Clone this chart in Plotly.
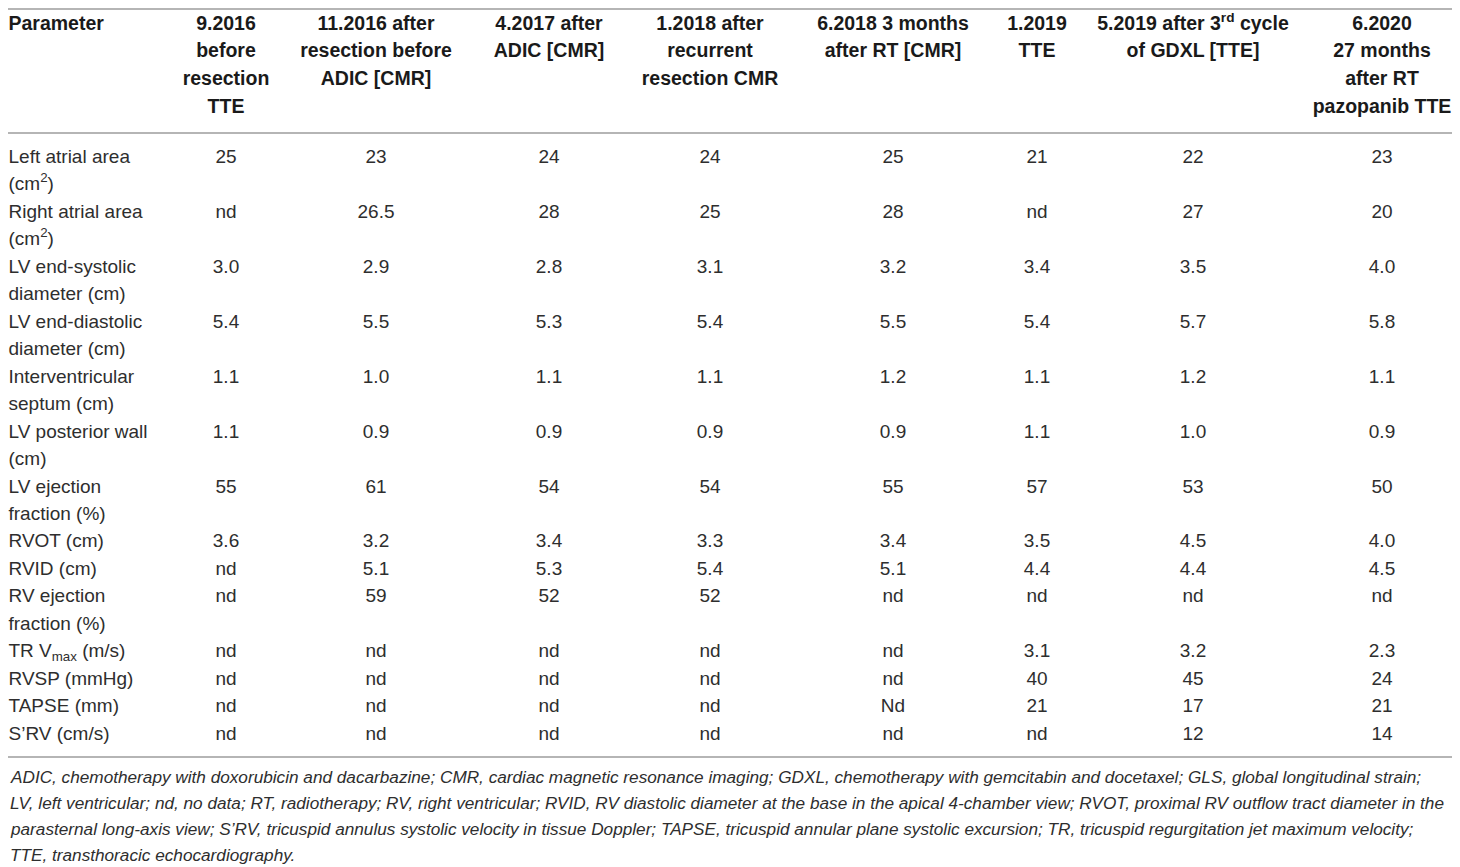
import plotly.graph_objects as go

# column headers (time points), lines split by <br>
timepoints = [
    "Parameter",
    "9.2016<br>before<br>resection<br>TTE",
    "11.2016 after<br>resection before<br>ADIC [CMR]",
    "4.2017 after<br>ADIC [CMR]",
    "1.2018 after<br>recurrent<br>resection CMR",
    "6.2018 3 months<br>after RT [CMR]",
    "1.2019<br>TTE",
    "5.2019 after 3<sup>rd</sup> cycle<br>of GDXL [TTE]",
    "6.2020<br>27 months<br>after RT<br>pazopanib TTE",
]

parameters = [
    "Left atrial area<br>(cm<sup>2</sup>)",
    "Right atrial area<br>(cm<sup>2</sup>)",
    "LV end-systolic<br>diameter (cm)",
    "LV end-diastolic<br>diameter (cm)",
    "Interventricular<br>septum (cm)",
    "LV posterior wall<br>(cm)",
    "LV ejection<br>fraction (%)",
    "RVOT (cm)",
    "RVID (cm)",
    "RV ejection<br>fraction (%)",
    "TR V<sub>max</sub> (m/s)",
    "RVSP (mmHg)",
    "TAPSE (mm)",
    "S’RV (cm/s)",
]

tp_2016_09 = ["25", "nd", "3.0", "5.4", "1.1", "1.1", "55", "3.6", "nd", "nd", "nd", "nd", "nd", "nd"]
tp_2016_11 = ["23", "26.5", "2.9", "5.5", "1.0", "0.9", "61", "3.2", "5.1", "59", "nd", "nd", "nd", "nd"]
tp_2017_04 = ["24", "28", "2.8", "5.3", "1.1", "0.9", "54", "3.4", "5.3", "52", "nd", "nd", "nd", "nd"]
tp_2018_01 = ["24", "25", "3.1", "5.4", "1.1", "0.9", "54", "3.3", "5.4", "52", "nd", "nd", "nd", "nd"]
tp_2018_06 = ["25", "28", "3.2", "5.5", "1.2", "0.9", "55", "3.4", "5.1", "nd", "nd", "nd", "Nd", "nd"]
tp_2019_01 = ["21", "nd", "3.4", "5.4", "1.1", "1.1", "57", "3.5", "4.4", "nd", "3.1", "40", "21", "nd"]
tp_2019_05 = ["22", "27", "3.5", "5.7", "1.2", "1.0", "53", "4.5", "4.4", "nd", "3.2", "45", "17", "12"]
tp_2020_06 = ["23", "20", "4.0", "5.8", "1.1", "0.9", "50", "4.0", "4.5", "nd", "2.3", "24", "21", "14"]

value_columns = [tp_2016_09, tp_2016_11, tp_2017_04, tp_2018_01,
                 tp_2018_06, tp_2019_01, tp_2019_05, tp_2020_06]

footnote = [
    "ADIC, chemotherapy with doxorubicin and dacarbazine; CMR, cardiac magnetic resonance imaging; GDXL, chemotherapy with gemcitabin and docetaxel; GLS, global longitudinal strain;",
    "LV, left ventricular; nd, no data; RT, radiotherapy; RV, right ventricular; RVID, RV diastolic diameter at the base in the apical 4-chamber view; RVOT, proximal RV outflow tract diameter in the",
    "parasternal long-axis view; S’RV, tricuspid annulus systolic velocity in tissue Doppler; TAPSE, tricuspid annular plane systolic excursion; TR, tricuspid regurgitation jet maximum velocity;",
    "TTE, transthoracic echocardiography.",
]

# layout in page px; the page body margin puts the figure 8px in from the edges
OFF = 8
PAGE_W, PAGE_H = 1460, 867
FONT = "Liberation Sans, Arial, sans-serif"
HEAD_C = "#1a1a1a"
BODY_C = "#2e2e2e"
RULE_C = "#9c9c9c"
col_x = [OFF + 0.5, 226, 376, 549, 710, 893, 1037, 1193, 1382]
head_y0, head_lh = 25, 27.6
body_y0, body_lh = 158, 27.48
rules_y = [OFF + 1, 133, 757]
foot_y0, foot_lh = 777, 26

fig = go.Figure()

# header block
hx, hy, ht, hpos = [], [], [], []
for j, t in enumerate(timepoints):
    for k, ln in enumerate(t.split("<br>")):
        hx.append(col_x[j])
        hy.append(head_y0 + k * head_lh)
        ht.append("<b>%s</b>" % ln)
        hpos.append("middle right" if j == 0 else "middle center")
fig.add_trace(go.Scatter(x=hx, y=hy, text=ht, mode="text", textposition=hpos,
                         textfont=dict(family=FONT, size=19.5, color=HEAD_C),
                         hoverinfo="skip", cliponaxis=False, showlegend=False))

# body: parameter labels (left) and values (centred)
lx, ly, lt = [], [], []
vx, vy, vt = [], [], []
line = 0
for i, p in enumerate(parameters):
    y_first = body_y0 + line * body_lh
    for k, ln in enumerate(p.split("<br>")):
        lx.append(col_x[0])
        ly.append(body_y0 + line * body_lh)
        lt.append(ln)
        line += 1
    for j, col in enumerate(value_columns):
        vx.append(col_x[j + 1])
        vy.append(y_first)
        vt.append(col[i])

fig.add_trace(go.Scatter(x=lx, y=ly, text=lt, mode="text", textposition="middle right",
                         textfont=dict(family=FONT, size=19, color=BODY_C),
                         hoverinfo="skip", cliponaxis=False, showlegend=False))
fig.add_trace(go.Scatter(x=vx, y=vy, text=vt, mode="text", textposition="middle center",
                         textfont=dict(family=FONT, size=19, color=BODY_C),
                         hoverinfo="skip", cliponaxis=False, showlegend=False))

# horizontal rules
for yy in rules_y:
    fig.add_shape(type="line", xref="paper", yref="y", x0=0, x1=1, y0=yy, y1=yy,
                  line=dict(color=RULE_C, width=1.6))

# footnote
for k, ln in enumerate(footnote):
    fig.add_annotation(text="<i>%s</i>" % ln, x=OFF, y=foot_y0 + k * foot_lh,
                       xref="x", yref="y", xanchor="left", yanchor="middle",
                       showarrow=False, font=dict(family=FONT, size=17.2, color=BODY_C))

fig.update_layout(
    width=PAGE_W - 2 * OFF, height=PAGE_H - OFF,
    margin=dict(l=0, r=0, t=0, b=0),
    paper_bgcolor="white", plot_bgcolor="white",
    xaxis=dict(range=[OFF, PAGE_W - OFF], visible=False, fixedrange=True),
    yaxis=dict(range=[PAGE_H, OFF], visible=False, fixedrange=True),
)
fig.write_html("out.html")
